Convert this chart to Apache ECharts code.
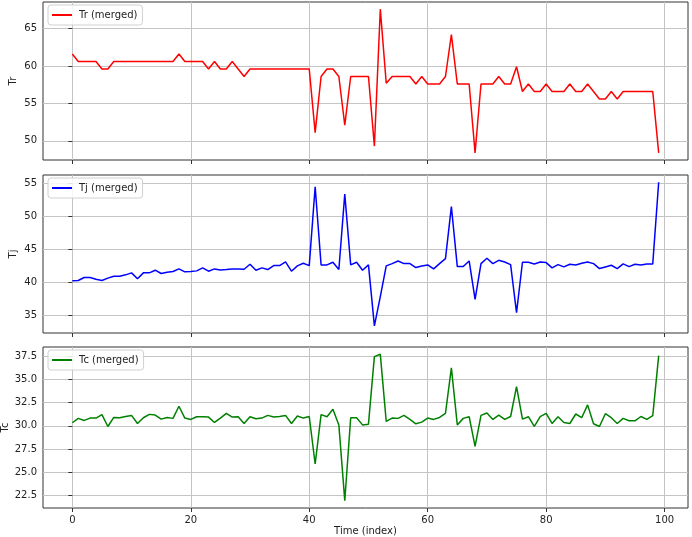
<!DOCTYPE html>
<html>
<head>
<meta charset="utf-8">
<script src="https://cdn.jsdelivr.net/npm/echarts@6/dist/echarts.min.js"></script>
<style>
  html, body { margin: 0; padding: 0; background: #fff; }
  #chart { width: 692px; height: 537px; }
</style>
</head>
<body>
<div id="chart"></div>
<script>
// data (index 0..99)
const trData = [
  61.6, 60.6, 60.6, 60.6, 60.6, 59.6, 59.6, 60.6, 60.6, 60.6,
  60.6, 60.6, 60.6, 60.6, 60.6, 60.6, 60.6, 60.6, 61.6, 60.6,
  60.6, 60.6, 60.6, 59.6, 60.6, 59.6, 59.6, 60.6, 59.6, 58.6,
  59.6, 59.6, 59.6, 59.6, 59.6, 59.6, 59.6, 59.6, 59.6, 59.6,
  59.6, 51.1, 58.6, 59.6, 59.6, 58.6, 52.1, 58.6, 58.6, 58.6,
  58.6, 49.3, 67.6, 57.7, 58.6, 58.6, 58.6, 58.6, 57.6, 58.6,
  57.6, 57.6, 57.6, 58.6, 64.2, 57.6, 57.6, 57.6, 48.4, 57.6,
  57.6, 57.6, 58.6, 57.6, 57.6, 59.9, 56.6, 57.6, 56.6, 56.6,
  57.6, 56.6, 56.6, 56.6, 57.6, 56.6, 56.6, 57.6, 56.6, 55.6,
  55.6, 56.6, 55.6, 56.6, 56.6, 56.6, 56.6, 56.6, 56.6, 48.4
]
const tjData = [
  40.25, 40.3, 40.75, 40.75, 40.5, 40.3, 40.65, 40.95, 40.95, 41.15,
  41.45, 40.55, 41.45, 41.45, 41.85, 41.35, 41.55, 41.65, 42.05, 41.6,
  41.65, 41.75, 42.2, 41.7, 42.05, 41.9, 41.95, 42.05, 42.05, 42.0,
  42.75, 41.85, 42.2, 41.95, 42.55, 42.55, 43.1, 41.7, 42.5, 42.9,
  42.55, 54.45, 42.65, 42.65, 43.05, 41.95, 53.35, 42.65, 43.05, 41.85,
  42.65, 33.45, 37.85, 42.5, 42.85, 43.25, 42.85, 42.85, 42.25, 42.5,
  42.65, 42.05, 42.85, 43.6, 51.45, 42.4, 42.4, 43.25, 37.45, 42.85,
  43.65, 42.85, 43.35, 43.1, 42.7, 35.45, 43.05, 43.05, 42.8, 43.1,
  43.0, 42.2, 42.7, 42.35, 42.75, 42.65, 42.9, 43.1, 42.85, 42.1,
  42.35, 42.6, 42.1, 42.8, 42.4, 42.75, 42.65, 42.8, 42.8, 55.15
]
const tcData = [
  30.33, 30.8, 30.58, 30.83, 30.83, 31.2, 29.93, 30.9, 30.87, 31.0,
  31.12, 30.25, 30.87, 31.23, 31.16, 30.72, 30.9, 30.8, 32.1, 30.83,
  30.69, 30.98, 30.98, 30.94, 30.36, 30.83, 31.34, 30.94, 30.98, 30.25,
  30.98, 30.76, 30.83, 31.12, 30.94, 31.0, 31.12, 30.25, 31.05, 30.83,
  31.0, 25.9, 31.2, 30.98, 31.78, 30.1, 21.96, 30.87, 30.87, 30.1,
  30.18, 37.43, 37.68, 30.47, 30.83, 30.8, 31.12, 30.69, 30.22, 30.4,
  30.83, 30.69, 30.9, 31.34, 36.23, 30.1, 30.8, 30.98, 27.79, 31.12,
  31.38, 30.69, 31.16, 30.69, 31.0, 34.2, 30.72, 30.98, 29.93, 30.98,
  31.34, 30.25, 30.98, 30.36, 30.25, 31.27, 30.87, 32.25, 30.22, 29.93,
  31.3, 30.87, 30.25, 30.8, 30.54, 30.54, 31.0, 30.69, 31.09, 37.54
]
const xTicks = [0, 20, 40, 60, 80, 100]
const trTicks = [50, 55, 60, 65]
const tjTicks = [35, 40, 45, 50, 55]
const tcTicks = [22.5, 25, 27.5, 30, 32.5, 35, 37.5]

const font = 'DejaVu Sans'
const gridColor = '#c4c4c4'

// matplotlib style 5% margins
function pad(arr) {
  const lo = Math.min(...arr), hi = Math.max(...arr)
  const m = (hi - lo) * 0.05
  return [lo - m, hi + m]
}
const toPairs = arr => arr.map((v, i) => [i, v])

// nameX = where the rotated y title sits (matplotlib puts it left of the tick labels)
const panels = [
  { name: 'Tr', label: 'Tr (merged)', data: trData, ticks: trTicks, color: '#ff0000', top: 2, height: 158, nameX: 13, fmt: v => String(v) },
  { name: 'Tj', label: 'Tj (merged)', data: tjData, ticks: tjTicks, color: '#0000ff', top: 175, height: 158, nameX: 13, fmt: v => String(v) },
  { name: 'Tc', label: 'Tc (merged)', data: tcData, ticks: tcTicks, color: '#008000', top: 347, height: 161, nameX: 5, fmt: v => v.toFixed(1) }
]

const chart = echarts.init(document.getElementById('chart'))

const option = {
  backgroundColor: '#fff',
  animation: false,
  textStyle: { fontFamily: font },
  grid: [],
  xAxis: [],
  yAxis: [],
  legend: [],
  series: [],
  graphic: []
}

panels.forEach((p, i) => {
  const isLast = i === panels.length - 1
  const [ymin, ymax] = pad(p.data)
  option.grid.push({
    left: 43, right: 4, top: p.top, height: p.height,
    outerBoundsMode: 'none', containLabel: false,
    show: true, borderColor: '#333', borderWidth: 1, backgroundColor: 'transparent'
  })
  option.xAxis.push({
    type: 'value', gridIndex: i, min: -4.95, max: 103.95,
    name: isLast ? 'Time (index)' : '',
    nameLocation: 'middle', nameGap: 18,
    nameTextStyle: { fontSize: 10, color: '#222', fontFamily: font },
    axisLine: { show: false },
    axisTick: { show: true, length: 4, customValues: xTicks, lineStyle: { color: '#333' } },
    axisLabel: { show: isLast, customValues: xTicks, margin: 7, fontSize: 10, color: '#222', fontFamily: font },
    splitLine: { show: true, lineStyle: { color: gridColor, width: 1 } }
  })
  option.yAxis.push({
    type: 'value', gridIndex: i, min: ymin, max: ymax,
    axisLine: { show: false },
    axisTick: { show: true, length: 4, customValues: p.ticks, lineStyle: { color: '#333' } },
    axisLabel: { customValues: p.ticks, margin: 6, fontSize: 10, color: '#222', fontFamily: font, formatter: p.fmt },
    splitLine: { show: true, lineStyle: { color: gridColor, width: 1 } }
  })
  // y axis title
  option.graphic.push({
    type: 'text', x: p.nameX, y: p.top + p.height / 2, rotation: Math.PI / 2,
    style: { text: p.name, fontSize: 10, fill: '#222', fontFamily: font, align: 'center', verticalAlign: 'middle' }
  })
  option.legend.push({
    data: [p.label], left: 48, top: p.top + 3, orient: 'vertical',
    icon: 'rect', itemWidth: 20, itemHeight: 2, itemGap: 4,
    padding: [5, 5, 5, 4], borderColor: '#d0d0d0', borderWidth: 1, borderRadius: 3,
    backgroundColor: 'rgba(255,255,255,0.85)',
    textStyle: { fontSize: 10, color: '#222', fontFamily: font, padding: [0, 0, 0, 2] }
  })
  option.series.push({
    name: p.label, type: 'line', xAxisIndex: i, yAxisIndex: i,
    data: toPairs(p.data), symbol: 'none', showSymbol: false,
    lineStyle: { color: p.color, width: 1.5 }, itemStyle: { color: p.color }
  })
})

chart.setOption(option)
</script>
</body>
</html>
